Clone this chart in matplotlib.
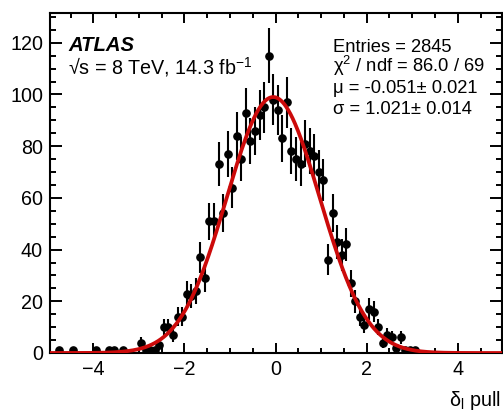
import numpy as np
import matplotlib
matplotlib.use("Agg")
import matplotlib.pyplot as plt
from matplotlib.ticker import MultipleLocator

plt.rcParams['font.family'] = ['Liberation Sans', 'DejaVu Sans']
plt.rcParams['mathtext.fontset'] = 'custom'
plt.rcParams['mathtext.rm'] = 'Liberation Sans'
plt.rcParams['mathtext.it'] = 'Liberation Sans:italic'
plt.rcParams['mathtext.bf'] = 'Liberation Sans:bold'

# Pull distribution: bin centres and entries (non-empty bins)
bin_centers = [-4.75, -4.45, -3.95, -3.65, -3.55, -3.35, -2.95, -2.85, -2.75, -2.65,
               -2.55, -2.45, -2.35, -2.25, -2.15, -2.05, -1.95, -1.85, -1.75, -1.65,
               -1.55, -1.45, -1.35, -1.25, -1.15, -1.05, -0.95, -0.85, -0.75, -0.65,
               -0.55, -0.45, -0.35, -0.25, -0.15, -0.05, 0.05, 0.15, 0.25, 0.35,
               0.45, 0.55, 0.65, 0.75, 0.85, 0.95, 1.05, 1.15, 1.25, 1.35,
               1.45, 1.55, 1.65, 1.75, 1.85, 1.95, 2.05, 2.15, 2.25, 2.35,
               2.45, 2.55, 2.65, 2.75, 2.85, 2.95, 3.05]
bin_counts = [1, 1, 1, 1, 1, 1, 4, 1, 1, 1,
              3, 10, 10, 7, 14, 14, 23, 22, 24, 37,
              29, 51, 51, 73, 54, 77, 64, 84, 75, 93,
              82, 86, 92, 95, 115, 98, 94, 83, 97, 78,
              75, 73, 81, 78, 76, 70, 67, 36, 54, 43,
              38, 42, 27, 20, 14, 11, 17, 16, 10, 4,
              7, 6, 2, 6, 1, 1, 1]

# Gaussian fit results
fit_const = 99.0
fit_mu = -0.051
fit_mu_err = 0.021
fit_sigma = 1.021
fit_sigma_err = 0.014
n_entries = 2845
chi2 = 86.0
ndf = 69

x_ticks = [-4, -2, 0, 2, 4]
y_ticks = [0, 20, 40, 60, 80, 100, 120]

W, H = 503, 412
fig = plt.figure(figsize=(W / 100, H / 100), dpi=100)

def fx(px):
    return px / W

def fy(py):
    return 1 - py / H

ax_l, ax_r, ax_t, ax_b = 50, 502, 13, 353
ax = fig.add_axes([fx(ax_l), fy(ax_b), (ax_r - ax_l) / W, (ax_b - ax_t) / H])

x = np.array(bin_centers)
y = np.array(bin_counts, dtype=float)
ax.errorbar(x, y, yerr=np.sqrt(y), fmt='o', color='black', ms=5.2,
            elinewidth=1.5, capsize=0, zorder=2)

xs = np.linspace(-5, 5, 600)
ax.plot(xs, fit_const * np.exp(-0.5 * ((xs - fit_mu) / fit_sigma) ** 2),
        color='#cc0a0a', lw=2.7, zorder=3, solid_capstyle='butt')

ax.set_xlim(-4.95, 4.97)
ax.set_ylim(0, 131.5)
ax.set_xticks(x_ticks)
ax.set_yticks(y_ticks)
ax.xaxis.set_minor_locator(MultipleLocator(0.5))
ax.yaxis.set_minor_locator(MultipleLocator(5))
ax.tick_params(which='both', direction='in', top=True, right=True, width=1.4,
               labelsize=14.2, pad=5)
ax.tick_params(axis='y', which='major', length=8.5)
ax.tick_params(axis='y', which='minor', length=4.2)
ax.tick_params(axis='x', which='major', length=7)
ax.tick_params(axis='x', which='minor', length=3.8)
for s in ax.spines.values():
    s.set_linewidth(1.5)

fig.text(fx(68), fy(51), 'ATLAS', fontsize=14.6, fontweight='bold',
         fontstyle='italic', ha='left', va='baseline')
fig.text(fx(68), fy(74), '√s = 8 TeV, 14.3 fb$^{-1}$', fontsize=14.2,
         ha='left', va='baseline')

stats = [f'Entries = {n_entries}',
         f'χ$^{{2}}$ / ndf = {chi2:.1f} / {ndf}',
         f'μ = {fit_mu:.3f}± {fit_mu_err:.3f}',
         f'σ = {fit_sigma:.3f}± {fit_sigma_err:.3f}']
for i, line in enumerate(stats):
    fig.text(fx(333), fy(51.7 + 20.6 * i), line, fontsize=13.2,
             ha='left', va='baseline')

fig.text(fx(501), fy(406), 'δ$_\\mathrm{l}$ pull', fontsize=14.2,
         ha='right', va='baseline')

fig.savefig('out.png', dpi=100)
